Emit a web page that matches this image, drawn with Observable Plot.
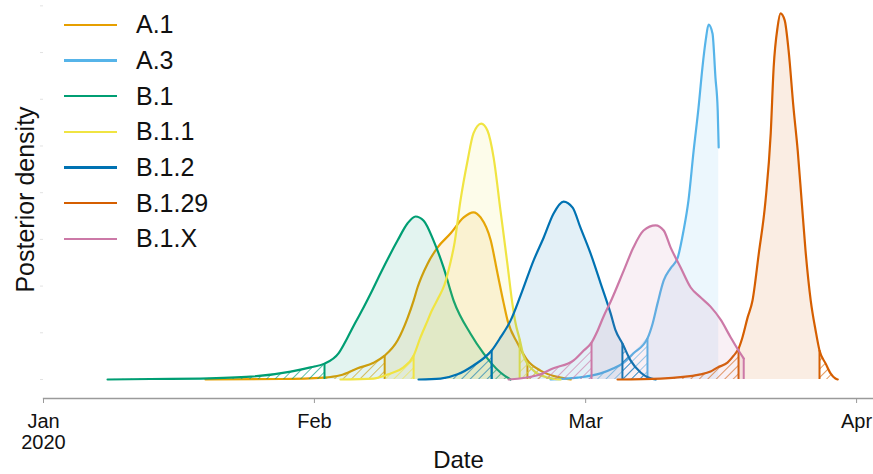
<!DOCTYPE html>
<html><head><meta charset="utf-8">
<script src="https://cdn.jsdelivr.net/npm/d3@7"></script>
<script src="https://cdn.jsdelivr.net/npm/@observablehq/plot@0.6"></script>
<style>
body{margin:0;background:#fff;font-family:"Liberation Sans",Arial,sans-serif;}
#wrap{position:relative;width:873px;height:474px;}
#legend{position:absolute;left:64px;top:7px;}
.row{display:flex;align-items:center;height:35.67px;}
.sw{width:53px;height:2.5px;margin-right:19px;}
.lab{font-size:25px;color:#111;line-height:1;}
</style></head><body><div id="wrap"><div id="legend"></div></div>
<script>
const lineages = ["A.1","A.3","B.1","B.1.1","B.1.2","B.1.29","B.1.X"];
const colors = ["#E69F00","#56B4E9","#009E73","#F0E442","#0072B2","#D55E00","#CC79A7"];

// tMRCA posterior density, x in decimal years
const tA1 = [2020.0498,2020.0729,2020.0861,2020.0913,2020.0966,2020.1015,2020.1049,2020.1089,2020.1119,2020.1138,2020.1150,2020.1181,2020.1212,2020.1252,2020.1292,2020.1322,2020.1344,2020.1375,2020.1396,2020.1415,2020.1427,2020.1458,2020.1488,2020.1528,2020.1590,2020.1621];
const dA1 = [0,0.1,0.4,0.9,2.4,3.6,5.1,8.4,13.1,16.9,19.7,24.8,28.3,31.3,34.7,35.8,34.7,29.8,22.7,16.3,12.6,7.7,4.1,1.9,0.4,0];

const tA3 = [2020.1559,2020.1642,2020.1713,2020.1753,2020.1780,2020.1814,2020.1857,2020.1873,2020.1888,2020.1907,2020.1928,2020.1950,2020.1968,2020.1983,2020.1999,2020.2014,2020.2026,2020.2036,2020.2045,2020.2057,2020.2066,2020.2073,2020.2076];
const dA3 = [0,0.4,1.3,2.4,3.4,5.6,8.8,12.0,16.3,21.2,23.8,26.1,31.9,38.3,49.0,58.2,66.8,72.6,76.0,74.1,64.7,57.6,49.7];

const tB1 = [2020.0197,2020.0329,2020.0483,2020.0637,2020.0760,2020.0821,2020.0864,2020.0907,2020.0935,2020.0959,2020.0984,2020.1006,2020.1036,2020.1089,2020.1119,2020.1144,2020.1169,2020.1199,2020.1230,2020.1261,2020.1313,2020.1353,2020.1378,2020.1405,2020.1436];
const dB1 = [0,0.1,0.2,0.6,1.7,2.6,3.4,5.6,9.0,12.2,15.4,18.4,22.7,29.8,33.4,34.9,34.0,29.8,24.0,16.9,9.8,5.6,3.4,1.5,0];

const tB11 = [2020.0913,2020.1015,2020.1067,2020.1107,2020.1138,2020.1159,2020.1181,2020.1193,2020.1215,2020.1233,2020.1249,2020.1264,2020.1282,2020.1304,2020.1322,2020.1346,2020.1365,2020.1384,2020.1405,2020.1427,2020.1439,2020.1451,2020.1464,2020.1476,2020.1507,2020.1550,2020.1590];
const dB11 = [0,0.2,1.3,2.6,5.1,9.0,12.6,14.6,17.6,20.3,24.4,29.3,38.3,46.9,52.7,54.8,53.3,47.5,36.2,24.4,17.6,12.2,8.6,5.1,1.9,0.4,0];

const tB12 = [2020.1153,2020.1221,2020.1273,2020.1322,2020.1378,2020.1405,2020.1436,2020.1467,2020.1507,2020.1538,2020.1568,2020.1599,2020.1627,2020.1651,2020.1682,2020.1713,2020.1744,2020.1759,2020.1780,2020.1805,2020.1836,2020.1860,2020.1882];
const dB12 = [0,0.2,1.1,3.0,6.2,9.0,12.6,18.0,25.5,30.4,35.5,38.1,36.8,32.5,27.0,20.6,14.1,10.5,7.7,4.1,1.5,0.4,0];

const tB129 = [2020.1765,2020.1897,2020.2020,2020.2051,2020.2073,2020.2103,2020.2122,2020.2137,2020.2149,2020.2165,2020.2180,2020.2199,2020.2220,2020.2236,2020.2245,2020.2257,2020.2266,2020.2279,2020.2291,2020.2306,2020.2319,2020.2331,2020.2343,2020.2359,2020.2374,2020.2386,2020.2405,2020.2420,2020.2435,2020.2442];
const dB129 = [0,0.2,1.1,1.7,2.6,3.6,5.1,6.6,9.0,13.3,16.9,26.8,38.3,52.7,66.8,75.4,78.4,76.9,70.4,58.2,49.0,38.3,27.6,16.9,10.5,6.2,3.4,1.3,0.2,0];

const tB1X = [2020.1430,2020.1519,2020.1568,2020.1630,2020.1661,2020.1685,2020.1704,2020.1722,2020.1744,2020.1784,2020.1814,2020.1845,2020.1882,2020.1907,2020.1928,2020.1959,2020.1990,2020.2020,2020.2051,2020.2082,2020.2113,2020.2137,2020.2153];
const dB1X = [0,0.9,2.4,4.1,6.2,7.9,10.5,13.5,16.7,23.3,28.3,31.9,33.0,31.9,28.3,24.0,19.7,17.6,15.6,12.8,9.0,6.2,4.5];

// 95% HPD bounds (null = interval runs to the end of the sampled range)
const hpdLow  = [2020.1049,2020.1857,2020.0864,2020.1138,2020.1378,2020.2137,2020.1685];
const hpdHigh = [2020.1488,null,2020.1378,2020.1464,2020.1780,2020.2386,2020.2153];

const monthTicks = [2020, 2020.0833, 2020.1667, 2020.25];
const monthLabels = ["Jan\n2020","Feb","Mar","Apr"];

const seriesT = [tA1,tA3,tB1,tB11,tB12,tB129,tB1X];
const seriesD = [dA1,dA3,dB1,dB11,dB12,dB129,dB1X];
const rows = lineages.flatMap((name,i)=>seriesT[i].map((t,j)=>({name,i,t,d:seriesD[i][j]})));

const curve = "monotone-x";
const marks = [
  Plot.axisY({ticks: 9, tickSize: 3, tickFormat: () => "", stroke: "#e2e2e2", label: null}),
  Plot.frame({anchor: "bottom", stroke: "#9a9a9a", strokeWidth: 1.3}),
  Plot.axisX({ticks: monthTicks, tickFormat: (v) => monthLabels[monthTicks.indexOf(v)], tickSize: 5, tickPadding: 10,
    fontSize: 20, lineHeight: 1.05, stroke: "#9a9a9a", fill: "#111", label: null})
];
lineages.forEach((name,i)=>{
  const pts = rows.filter(r=>r.i===i);
  const lo = hpdLow[i], hi = hpdHigh[i];
  const inside = pts.filter(r=>r.t>=lo && (hi==null || r.t<=hi));
  const left = pts.filter(r=>r.t<=lo);
  const right = hi==null ? [] : pts.filter(r=>r.t>=hi);
  marks.push(
    Plot.areaY(inside,{x:"t",y:"d",fill:colors[i],fillOpacity:0.11,curve}),
    Plot.areaY(left,{x:"t",y:"d",fill:`url(#hatch${i})`,curve}),
    Plot.areaY(right,{x:"t",y:"d",fill:`url(#hatch${i})`,curve}),
    Plot.ruleX(pts.filter(r=>r.t===lo || r.t===hi),{x:"t",y1:0,y2:"d",stroke:colors[i],strokeWidth:2}),
    Plot.line(pts,{x:"t",y:"d",stroke:colors[i],strokeWidth:2.2,curve})
  );
});
marks.push(
  Plot.text(["Posterior density"],{frameAnchor:"left",textAnchor:"middle",dx:-18,rotate:-90,fontSize:25,fill:"#111"}),
  Plot.text(["Date"],{frameAnchor:"bottom",dy:52,lineAnchor:"top",fontSize:24,fill:"#111"})
);

const chart = Plot.plot({
  width: 873, height: 474,
  marginLeft: 43, marginRight: 0, marginTop: 0, marginBottom: 76,
  style: {fontFamily: "'Liberation Sans', Arial, sans-serif", background: "#fff"},
  x: {type: "linear", domain: [2020, 2020.2552]},
  y: {domain: [-4.07, 81.15]},
  marks
});
const defs = d3.select(chart).insert("defs", ":first-child");
colors.forEach((c,i)=>{
  const p = defs.append("pattern").attr("id",`hatch${i}`).attr("patternUnits","userSpaceOnUse")
    .attr("width",6).attr("height",6).attr("patternTransform","rotate(45)");
  p.append("line").attr("x1",0).attr("y1",0).attr("x2",0).attr("y2",6)
    .attr("stroke",c).attr("stroke-width",1.6).attr("stroke-opacity",0.8);
});
document.getElementById("wrap").prepend(chart);

const legend = d3.select("#legend");
lineages.forEach((name,i)=>{
  const row = legend.append("div").attr("class","row");
  row.append("div").attr("class","sw").style("background",colors[i]);
  row.append("div").attr("class","lab").text(name);
});
</script></body></html>
